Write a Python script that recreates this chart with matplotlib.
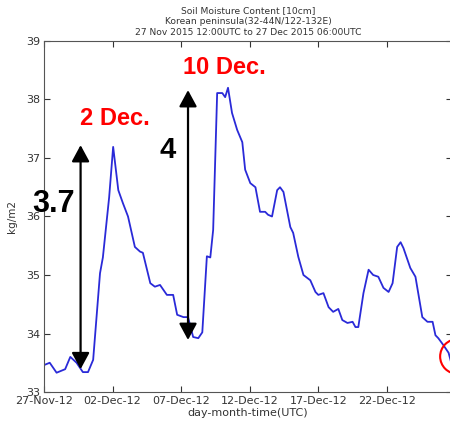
import numpy as np
import pandas as pd
import matplotlib
matplotlib.use("Agg")
import matplotlib.pyplot as plt
import matplotlib.dates as mdates

# hours after 27 Nov 2015 12UTC, soil moisture (kg/m2)
hours = [0, 10, 22, 37, 46, 57, 68, 77, 86, 98, 103, 114, 121, 130, 138, 147,
         159, 168, 173, 186, 194, 203, 215, 226, 233, 244, 252, 261, 270, 277,
         285, 291, 296, 303, 312, 317, 322, 329, 338, 347, 352, 361, 370, 378,
         387, 392, 399, 408, 413, 419, 431, 436, 445, 454, 466, 475, 480, 489,
         498, 506, 515, 522, 531, 540, 545, 550, 559, 568, 576, 585, 594, 603,
         610, 618, 624, 629, 641, 650, 662, 671, 680, 685, 690, 699, 708, 714]
sm = [33.46, 33.50, 33.33, 33.39, 33.60, 33.50, 33.34, 33.34, 33.55, 35.03,
      35.30, 36.33, 37.19, 36.45, 36.23, 36.00, 35.48, 35.40, 35.38, 34.86,
      34.80, 34.83, 34.66, 34.66, 34.32, 34.28, 34.28, 33.94, 33.92, 34.02,
      35.32, 35.30, 35.77, 38.11, 38.11, 38.04, 38.20, 37.77, 37.48, 37.27,
      36.80, 36.57, 36.50, 36.08, 36.08, 36.03, 36.00, 36.45, 36.50, 36.42,
      35.82, 35.72, 35.31, 35.00, 34.91, 34.71, 34.66, 34.69, 34.45, 34.37,
      34.42, 34.23, 34.18, 34.20, 34.11, 34.11, 34.69, 35.09, 35.00, 34.97,
      34.78, 34.71, 34.86, 35.48, 35.56, 35.46, 35.12, 34.97, 34.28, 34.20,
      34.20, 33.97, 33.92, 33.80, 33.67, 33.45]

start = pd.Timestamp("2015-11-27 12:00")
end = pd.Timestamp("2015-12-27 06:00")
times = start + pd.to_timedelta(hours, unit="h")

# arrows: (hour, bottom, top, label)
arrow_hours = [64, 252]
arrow_low = [33.39, 33.89]
arrow_high = [37.22, 38.16]
arrow_labels = ["3.7", "4"]
event_labels = ["2 Dec.", "10 Dec."]

fig = plt.figure(figsize=(4.5, 4.26), dpi=100)
ax = fig.add_axes([0.0978, 0.0798, 0.9067, 0.824])

ax.plot(times, sm, color="#2a2ad8", lw=1.3)

ax.set_xlim(start, end)
ax.set_ylim(33, 39)
ax.set_yticks([33, 34, 35, 36, 37, 38, 39])
ax.set_xticks(pd.date_range(start, periods=6, freq="5D"))
ax.xaxis.set_major_formatter(mdates.DateFormatter("%d-%b-%H"))
ax.tick_params(direction="in", top=True, right=True, length=4,
               labelsize=8, colors="#333333", pad=3)
for s in ax.spines.values():
    s.set_color("#555555")

ax.set_xlabel("day-month-time(UTC)", fontsize=8, color="#333333", labelpad=1)
ax.set_ylabel("kg/m2", fontsize=7.5, color="#333333", labelpad=6)
ax.set_title("Soil Moisture Content [10cm]\nKorean peninsula(32-44N/122-132E)\n"
             "27 Nov 2015 12:00UTC to 27 Dec 2015 06:00UTC",
             fontsize=6.6, color="#333333", linespacing=1.3, pad=4)

for h, lo, hi in zip(arrow_hours, arrow_low, arrow_high):
    t = start + pd.Timedelta(hours=h)
    ax.annotate("", xy=(t, hi), xytext=(t, lo),
                arrowprops=dict(arrowstyle="<|-|>,head_length=0.5,head_width=0.27",
                                mutation_scale=20, color="black", lw=1.6,
                                shrinkA=0, shrinkB=0),
                annotation_clip=False)

bold = dict(family="Liberation Sans", weight="bold")
ax.text(start + pd.Timedelta(hours=17.5), 36.08, arrow_labels[0], fontsize=22,
        ha="center", va="baseline", **bold)
ax.text(start + pd.Timedelta(hours=217), 37.0, arrow_labels[1], fontsize=21,
        ha="center", va="baseline", **bold)
ax.text(start + pd.Timedelta(hours=124), 37.56, event_labels[0], fontsize=17,
        color="red", ha="center", va="baseline", **bold)
ax.text(start + pd.Timedelta(hours=315), 38.44, event_labels[1], fontsize=17,
        color="red", ha="center", va="baseline", **bold)

# red circle marking the last value
ax.plot([start + pd.Timedelta(hours=722)], [33.62], marker="o", ms=25,
        mfc="none", mec="red", mew=1.5, clip_on=False)

fig.savefig("out.png", dpi=100)
